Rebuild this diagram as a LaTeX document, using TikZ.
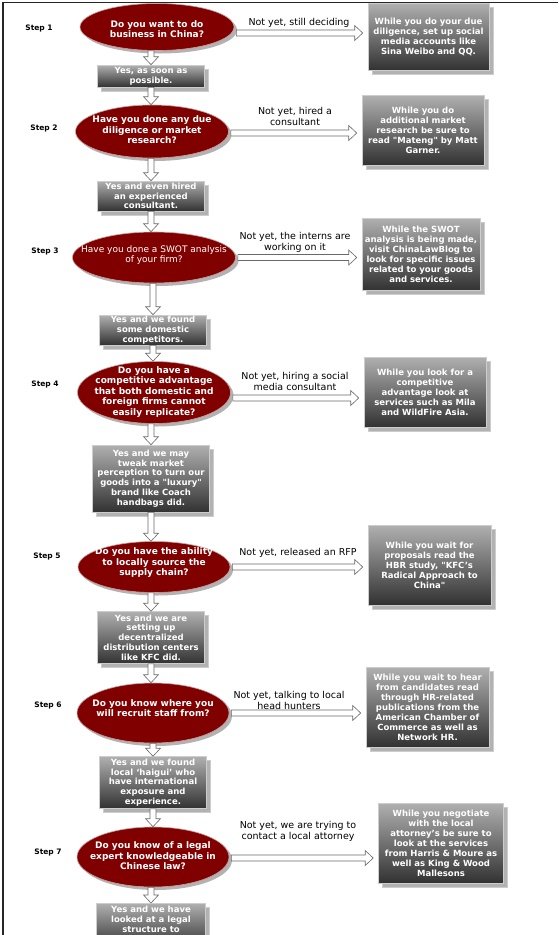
\documentclass[tikz,border=0pt]{standalone}
\usepackage{fontspec}
\setmainfont{DejaVu Sans}
\usepackage{tikz}
\usetikzlibrary{shapes.geometric, shadows, calc}
\definecolor{maroonred}{RGB}{128, 0, 0}
\definecolor{ovaledge}{RGB}{205, 160, 160}
\definecolor{boxtop}{RGB}{176, 176, 176}
\definecolor{boxbottom}{RGB}{50, 50, 50}
\definecolor{boxedge}{RGB}{205, 205, 205}
\definecolor{shadowgray}{RGB}{178, 178, 178}
\definecolor{arrowgray}{RGB}{105, 105, 105}

\begin{document}
\begin{tikzpicture}[x=1pt, y=-1pt,
    question/.style={ellipse, draw=ovaledge, line width=0.6pt, fill=maroonred, inner sep=0pt,
        drop shadow={shadow xshift=3pt, shadow yshift=-3pt, fill=shadowgray, opacity=1}},
    qtext/.style={text=white, align=center, inner sep=0pt, font=\fontsize{9}{10.5}\selectfont\bfseries},
    yesbox/.style={rectangle, draw=boxedge, line width=0.6pt, top color=boxtop, bottom color=boxbottom,
        text=white, align=center, inner sep=1pt, font=\fontsize{8.5}{9.8}\selectfont\bfseries,
        drop shadow={shadow xshift=4pt, shadow yshift=-4pt, fill=shadowgray, draw=boxedge, opacity=1}},
    tipbox/.style={yesbox, font=\fontsize{8.5}{10}\selectfont\bfseries},
    notlabel/.style={align=center, inner sep=0pt, font=\fontsize{9.5}{11}\selectfont},
    steplabel/.style={inner sep=0pt, font=\fontsize{7.5}{9}\selectfont\bfseries},
    hollow/.style={draw=arrowgray, fill=white, line width=0.6pt},
    downarrow/.style={hollow, to path={let \p1=(\tikztostart), \p2=(\tikztotarget) in
        (\x1-3pt,\y1) -- (\x1-3pt,\y2+8pt) -- (\x1-7.5pt,\y2+8pt) -- (\x1,\y2)
        -- (\x1+7.5pt,\y2+8pt) -- (\x1+3pt,\y2+8pt) -- (\x1+3pt,\y1) -- cycle}},
    sidearrow/.style={hollow, to path={let \p1=(\tikztostart), \p2=(\tikztotarget) in
        (\x1,\y1+3pt) -- (\x2-8pt,\y1+3pt) -- (\x2-8pt,\y1+7.5pt) -- (\x2,\y1)
        -- (\x2-8pt,\y1-7.5pt) -- (\x2-8pt,\y1-3pt) -- (\x1,\y1-3pt) -- cycle}}
]
    \clip (0,0) rectangle (558,935);
    \fill[white] (0,0) rectangle (558,935);

    % step numbers
    \node[steplabel] (s1) at (39,28) {Step 1};
    \node[steplabel] (s2) at (44,128) {Step 2};
    \node[steplabel] (s3) at (45,251) {Step 3};
    \node[steplabel] (s4) at (45,384) {Step 4};
    \node[steplabel] (s5) at (47,556) {Step 5};
    \node[steplabel] (s6) at (48,705) {Step 6};
    \node[steplabel] (s7) at (48,852) {Step 7};

    % questions
    \node[question, minimum width=154pt, minimum height=47pt] (q1) at (157,27) {};
    \node[qtext] (q1t) at (157,29) {Do you want to do\\business in China?};
    \node[question, minimum width=153pt, minimum height=53pt] (q2) at (152,131.5) {};
    \node[qtext] (q2t) at (152,130) {Have you done any due\\diligence or market\\research?};
    \node[question, minimum width=163pt, minimum height=51pt] (q3) at (154,257.5) {};
    \node[qtext, font=\fontsize{9}{10.5}\selectfont] (q3t) at (154,255) {Have you done a SWOT analysis\\of your firm?};
    \node[question, minimum width=153pt, minimum height=62pt] (q4) at (154,392.5) {};
    \node[qtext] (q4t) at (154,392) {Do you have a\\competitive advantage\\that both domestic and\\foreign firms cannot\\easily replicate?};
    \node[question, minimum width=152pt, minimum height=51pt] (q5) at (154,567) {};
    \node[qtext] (q5t) at (154,563) {Do you have the ability\\to locally source the\\supply chain?};
    \node[question, minimum width=152pt, minimum height=60pt] (q6) at (153,713) {};
    \node[qtext] (q6t) at (153,708) {Do you know where you\\will recruit staff from?};
    \node[question, minimum width=152pt, minimum height=60pt] (q7) at (153,857) {};
    \node[qtext] (q7t) at (153,856) {Do you know of a legal\\expert knowledgeable in\\Chinese law?};

    % yes answers
    \node[yesbox, minimum width=107pt, minimum height=22pt] (y1) at (151,76) {Yes, as soon as\\possible.};
    \node[yesbox, minimum width=107pt, minimum height=30pt] (y2) at (151,196) {Yes and even hired\\an experienced\\consultant.};
    \node[yesbox, minimum width=107pt, minimum height=30pt] (y3) at (153,330) {Yes and we found\\some domestic\\competitors.};
    \node[yesbox, minimum width=117pt, minimum height=67pt] (y4) at (151,478.5) {Yes and we may\\tweak market\\perception to turn our\\goods into a \textquotedbl luxury\textquotedbl\\brand like Coach\\handbags did.};
    \node[yesbox, minimum width=107pt, minimum height=52pt] (y5) at (151,637.5) {Yes and we are\\setting up\\decentralized\\distribution centers\\like KFC did.};
    \node[yesbox, minimum width=107pt, minimum height=52pt] (y6) at (153,782.5) {Yes and we found\\local `haigui' who\\have international\\exposure and\\experience.};
    \node[yesbox, minimum width=109pt, anchor=north, inner ysep=3pt] (y7) at (151,903) {Yes and we have\\looked at a legal\\structure to\\ \strut};

    % not yet tips
    \node[tipbox, minimum width=121pt, minimum height=67pt] (r1) at (428.5,36.5) {While you do your due\\diligence, set up social\\media accounts like\\Sina Weibo and QQ.};
    \node[tipbox, minimum width=122pt, minimum height=70pt] (r2) at (423,130) {While you do\\additional market\\research be sure to\\read \textquotedbl Mateng\textquotedbl{} by Matt\\Garner.};
    \node[tipbox, minimum width=118pt, minimum height=72pt] (r3) at (421,254) {While the SWOT\\analysis is being made,\\visit ChinaLawBlog to\\look for specific issues\\related to your goods\\and services.};
    \node[tipbox, minimum width=122pt, minimum height=70pt] (r4) at (425,392) {While you look for a\\competitive\\advantage look at\\services such as Mila\\and WildFire Asia.};
    \node[tipbox, minimum width=123pt, minimum height=80pt] (r5) at (429.5,565) {While you wait for\\proposals read the\\HBR study, \textquotedbl KFC's\\Radical Approach to\\China\textquotedbl};
    \node[tipbox, minimum width=123pt, minimum height=80pt] (r6) at (427.5,707) {While you wait to hear\\from candidates read\\through HR-related\\publications from the\\American Chamber of\\Commerce as well as\\Network HR.};
    \node[tipbox, minimum width=125pt, minimum height=80pt] (r7) at (441,843) {While you negotiate\\with the local\\attorney's be sure to\\look at the services\\from Harris \& Moure as\\well as King \& Wood\\Mallesons};

    % not yet labels
    \node[notlabel] (n1) at (299,23) {Not yet, still deciding};
    \node[notlabel] (n2) at (295,116) {Not yet, hired a\\consultant};
    \node[notlabel] (n3) at (295,242.5) {Not yet, the interns are\\working on it};
    \node[notlabel] (n4) at (295,381) {Not yet, hiring a social\\media consultant};
    \node[notlabel] (n5) at (298,553) {Not yet, released an RFP};
    \node[notlabel] (n6) at (289,700) {Not yet, talking to local\\head hunters};
    \node[notlabel] (n7) at (298,831.5) {Not yet, we are trying to\\contact a local attorney};

    % yes arrows
    \draw[downarrow] (y1.north |- q1.south) to (y1.north);
    \draw[downarrow] (y1.south) to (y1.south |- q2.north);
    \draw[downarrow] (y2.north |- q2.south) to (y2.north);
    \draw[downarrow] (y2.south) to (y2.south |- q3.north);
    \draw[downarrow] (y3.north |- q3.south) to (y3.north);
    \draw[downarrow] (y3.south) to (y3.south |- q4.north);
    \draw[downarrow] (y4.north |- q4.south) to (y4.north);
    \draw[downarrow] (y4.south) to (y4.south |- q5.north);
    \draw[downarrow] (y5.north |- q5.south) to (y5.north);
    \draw[downarrow] (y5.south) to (y5.south |- q6.north);
    \draw[downarrow] (y6.north |- q6.south) to (y6.north);
    \draw[downarrow] (y6.south) to (y6.south |- q7.north);
    \draw[downarrow] (y7.north |- q7.south) to (y7.north);

    % not yet arrows
    \draw[sidearrow] ([xshift=2pt, yshift=-6pt]q1.east) to ([xshift=-5pt]r1.west);
    \draw[sidearrow] ([xshift=2pt, yshift=-1.5pt]q2.east) to ([xshift=-5pt]r2.west);
    \draw[sidearrow] ([xshift=2pt]q3.east) to ([xshift=-5pt]r3.west);
    \draw[sidearrow] ([xshift=2pt, yshift=-5.5pt]q4.east) to ([xshift=-5pt]r4.west);
    \draw[sidearrow] ([xshift=2pt]q5.east) to ([xshift=-5pt]r5.west);
    \draw[sidearrow] ([xshift=2pt]q6.east) to ([xshift=-5pt]r6.west);
    \draw[sidearrow] ([xshift=2pt, yshift=-1pt]q7.east) to ([xshift=-5pt]r7.west);

    % frame
    \draw[line width=1.5pt, black!85] (3,935) -- (3,2.5) -- (558,2.5);
\end{tikzpicture}
\end{document}
